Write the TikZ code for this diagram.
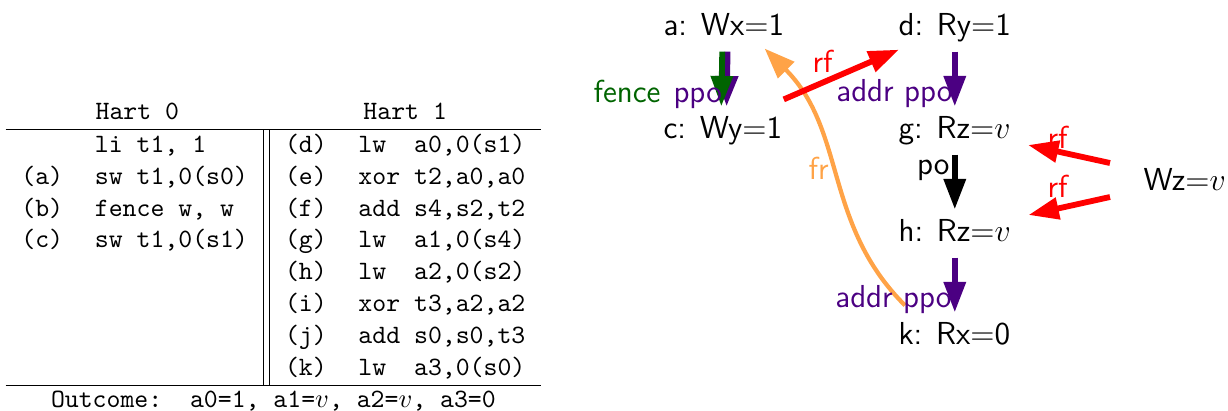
\documentclass[tikz,border=0pt]{standalone}
\usetikzlibrary{arrows.meta}
\definecolor{ppoc}{RGB}{75,0,130}
\definecolor{fencec}{RGB}{0,100,0}
\definecolor{frc}{RGB}{255,163,71}
\begin{document}
\begin{tikzpicture}[x=0.3775pt,y=-0.3775pt,
  ev/.style={font=\sffamily\fontsize{12}{14}\selectfont, inner xsep=0pt, inner ysep=2.7pt,
             text height=9.4pt, text depth=3pt, anchor=base west},
  lbl/.style={font=\sffamily\fontsize{12}{14}\selectfont, inner sep=0pt},
  arr/.style={line width=2.2pt, -{Triangle[length=11.5pt,width=8pt]}},
  frarr/.style={line width=1.6pt, frc, -{Triangle[length=11.5pt,width=8.5pt]}}
]
\useasboundingbox (0,0) rectangle (1228,411);

% litmus table
\node[anchor=north west, inner sep=0pt, font=\ttfamily] (tab) at (5,97) {%
\begin{tabular}{cl||cl}
\multicolumn{2}{c}{Hart 0} & \multicolumn{2}{c}{Hart 1}\\ \hline
    & li t1, 1    & (d) & lw\ \ a0,0(s1)\\
(a) & sw t1,0(s0) & (e) & xor t2,a0,a0\\
(b) & fence w, w  & (f) & add s4,s2,t2\\
(c) & sw t1,0(s1) & (g) & lw\ \ a1,0(s4)\\
    &             & (h) & lw\ \ a2,0(s2)\\
    &             & (i) & xor t3,a2,a2\\
    &             & (j) & add s0,s0,t3\\
    &             & (k) & lw\ \ a3,0(s0)\\ \hline
\multicolumn{4}{c}{Outcome:\ \ a0=1, a1=$v$, a2=$v$, a3=0}
\end{tabular}};

% events
\node[ev] (a) at (663,36) {a: Wx=1};
\node[ev] (c) at (663,139) {c: Wy=1};
\node[ev] (d) at (898,36) {d: Ry=1};
\node[ev] (g) at (898,139) {g: Rz=$v$};
\node[ev] (h) at (898,242) {h: Rz=$v$};
\node[ev] (k) at (898,345) {k: Rx=0};
\node[ev] (wz) at (1143,191) {Wz=$v$};

% edges
\draw[frarr] ([shift={(7,-7)}]k.north west) .. controls +(-82,-82) and +(82,82) .. ([shift={(-20,-3)}]a.south east);
\draw[arr, ppoc] ([xshift=1.4pt]a.south) -- ([xshift=1.4pt]c.north);
\draw[arr, fencec] ([xshift=-0.6pt]a.south) -- ([xshift=-0.6pt]c.north);
\draw[arr, ppoc] (d.south) -- (d.south |- g.north);
\draw[arr, black] (d.south |- g.south) -- (d.south |- h.north);
\draw[arr, ppoc] (d.south |- h.south) -- (d.south |- k.north);
\draw[arr, red] ([shift={(1,-7)}]c.north east) -- ([shift={(1,-2)}]d.south west);
\draw[arr, red] ([shift={(-33,-19.5)}]wz.west) -- ([shift={(17,14.5)}]g.east);
\draw[arr, red] ([shift={(-33,14.5)}]wz.west) -- ([shift={(17,-18.5)}]h.east);

% labels
\node[lbl, anchor=base west, text=fencec] (lfence) at (593,103) {fence};
\node[lbl, anchor=base west, text=ppoc] (lppo1) at (673,103) {ppo};
\node[lbl, anchor=base east, text=ppoc] (lppo2) at (953,102) {addr ppo};
\node[lbl, anchor=base east, text=black] (lpo) at (950,175) {po};
\node[lbl, anchor=base east, text=ppoc] (lppo3) at (952,308) {addr ppo};
\node[lbl, anchor=base west, text=red] (lrf1) at (812,73) {rf};
\node[lbl, anchor=base west, text=red] (lrf2) at (1047,149) {rf};
\node[lbl, anchor=base west, text=red] (lrf3) at (1047,198) {rf};
\node[lbl, anchor=base west, text=frc] (lfr) at (808,180) {fr};
\end{tikzpicture}
\end{document}
